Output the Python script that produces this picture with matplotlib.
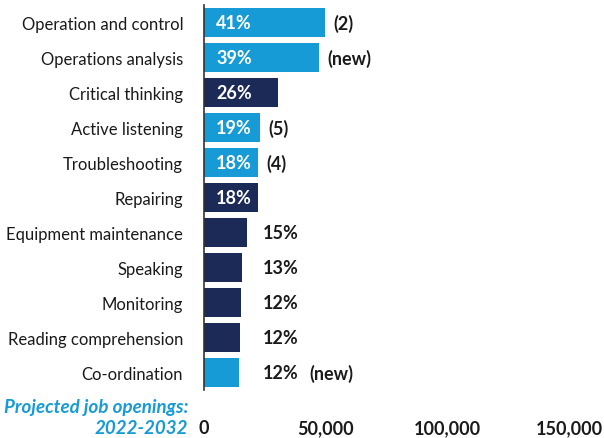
import matplotlib.pyplot as plt

# skills, top to bottom
skills = ['Operation and control', 'Operations analysis', 'Critical thinking',
          'Active listening', 'Troubleshooting', 'Repairing',
          'Equipment maintenance', 'Speaking', 'Monitoring',
          'Reading comprehension', 'Co-ordination']
openings = [49800, 47400, 30600, 23100, 22300, 22300, 17800, 15600, 15200, 14600, 14500]
shares = ['41%', '39%', '26%', '19%', '18%', '18%', '15%', '13%', '12%', '12%', '12%']
notes = ['(2)', '(new)', '', '(5)', '(4)', '', '', '', '', '', '(new)']
highlight = [True, True, False, True, True, False, False, False, False, False, True]
x_ticks = [0, 50000, 100000, 150000]

light = '#179bd7'
dark = '#1b2a57'
txt = '#1a1a1a'

plt.rcParams['font.family'] = ['Lato', 'DejaVu Sans']

fig = plt.figure(figsize=(6.04, 4.39), dpi=100)
ax = fig.add_axes([204 / 604, 48 / 439, 396 / 604, 385 / 439])

ypos = list(range(len(skills)))
colors = [light if h else dark for h in highlight]
ax.barh(ypos, openings, height=0.83, color=colors)

ax.set_ylim(len(skills) - 0.5, -0.5)
ax.set_xlim(0, 396 / 365 * 150000)

# percentages: inside the bar for the wide ones, in a column for the rest
for i, (v, s, n) in enumerate(zip(openings, shares, notes)):
    if v > 20000:
        ax.text(5000, i, s, color='white', fontsize=13, fontweight='bold', va='center', ha='left')
        if n:
            ax.text(v + 3300, i, n, color=txt, fontsize=13, fontweight='bold', va='center', ha='left')
    else:
        ax.text(24000, i, s, color=txt, fontsize=13, fontweight='bold', va='center', ha='left')
        if n:
            ax.text(43500, i, n, color=txt, fontsize=13, fontweight='bold', va='center', ha='left')

ax.set_yticks(ypos)
ax.set_yticklabels(skills, fontsize=12, color=txt)
ax.set_xticks(x_ticks)
ax.set_xticklabels([f'{t:,}' for t in x_ticks], fontsize=13, fontweight='bold', color=txt)
ax.tick_params(axis='y', length=0, pad=15)
ax.tick_params(axis='x', length=0, pad=21)

for side in ['top', 'right', 'bottom']:
    ax.spines[side].set_visible(False)
ax.spines['left'].set_color('#333333')
ax.spines['left'].set_linewidth(1.2)

fig.text(188 / 604, 1 - 408 / 439, 'Projected job openings:', color=light, fontsize=13.5,
         fontweight='bold', fontstyle='italic', ha='right', va='center')
fig.text(188 / 604, 1 - 429 / 439, '2022-2032', color=light, fontsize=13.5,
         fontweight='bold', fontstyle='italic', ha='right', va='center')

fig.savefig('out.png', dpi=100)
